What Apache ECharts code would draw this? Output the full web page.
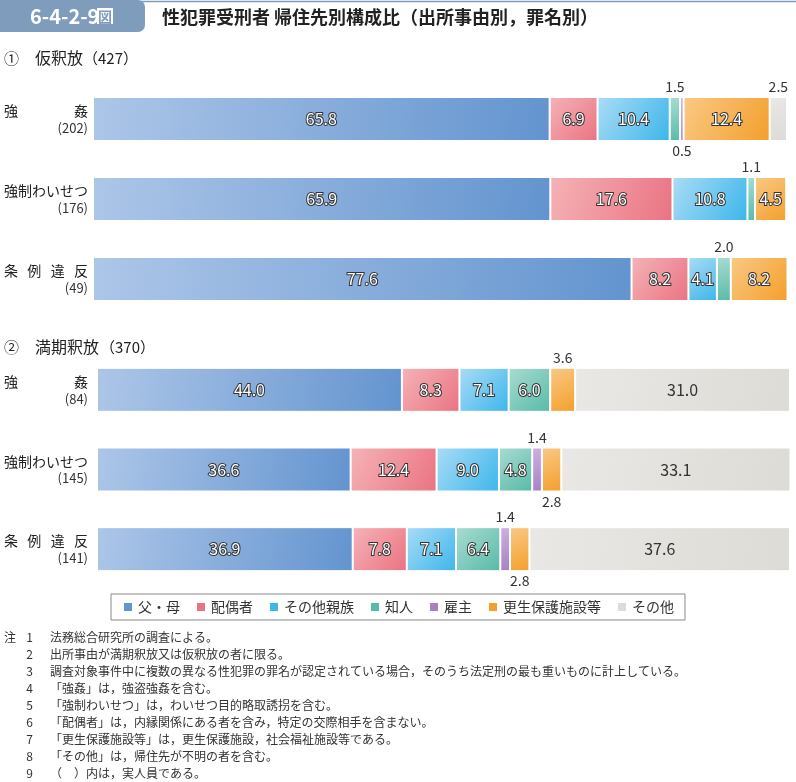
<!DOCTYPE html>
<html>
<head>
<meta charset="utf-8">
<script src="https://cdn.jsdelivr.net/npm/echarts@6/dist/echarts.min.js"></script>
<style>
html,body{margin:0;padding:0;background:#fff;}
#chart{width:796px;height:782px;}
</style>
</head>
<body>
<div id="chart"></div>
<script>
// ---- data ----
const categories = ['強姦', '強制わいせつ', '条例違反'];
const countsParole = [202, 176, 49];
const countsExpiry = [84, 145, 141];
const seriesNames = ['父・母', '配偶者', 'その他親族', '知人', '雇主', '更生保護施設等', 'その他'];

// ① 仮釈放
const paroleFather = [65.8, 65.9, 77.6];
const paroleSpouse = [6.9, 17.6, 8.2];
const paroleRelative = [10.4, 10.8, 4.1];
const paroleAcquaint = [1.5, 1.1, 2.0];
const paroleEmployer = [0.5, 0, 0];
const paroleFacility = [12.4, 4.5, 8.2];
const paroleOther = [2.5, 0, 0];

// ② 満期釈放
const expiryFather = [44.0, 36.6, 36.9];
const expirySpouse = [8.3, 12.4, 7.8];
const expiryRelative = [7.1, 9.0, 7.1];
const expiryAcquaint = [6.0, 4.8, 6.4];
const expiryEmployer = [0, 1.4, 1.4];
const expiryFacility = [3.6, 2.8, 2.8];
const expiryOther = [31.0, 33.1, 37.6];

const panelTitles = ['①', '仮釈放', '（427）', '②', '満期釈放', '（370）'];
const notes = [
  ['注', '1', '法務総合研究所の調査による。'],
  ['', '2', '出所事由が満期釈放又は仮釈放の者に限る。'],
  ['', '3', '調査対象事件中に複数の異なる性犯罪の罪名が認定されている場合，そのうち法定刑の最も重いものに計上している。'],
  ['', '4', '「強姦」は，強盗強姦を含む。'],
  ['', '5', '「強制わいせつ」は，わいせつ目的略取誘拐を含む。'],
  ['', '6', '「配偶者」は，内縁関係にある者を含み，特定の交際相手を含まない。'],
  ['', '7', '「更生保護施設等」は，更生保護施設，社会福祉施設等である。'],
  ['', '8', '「その他」は，帰住先が不明の者を含む。'],
  ['', '9', '（　）内は，実人員である。']
];

// ---- styling ----
const FONT = '"Noto Sans CJK JP", "Noto Sans", sans-serif';
const gradColors = [
  ['#adc6e8', '#6394cf'],
  ['#f5b3b7', '#ea7382'],
  ['#aadcf6', '#3db6ea'],
  ['#a9dcd2', '#58baa8'],
  ['#cdb0df', '#a681c3'],
  ['#fac985', '#f39f2c'],
  ['#e9e8e4', '#dcdbd6']
];
function grad(i) {
  return new echarts.graphic.LinearGradient(0, 0, 1, 1, [
    { offset: 0, color: gradColors[i][0] },
    { offset: 1, color: gradColors[i][1] }
  ]);
}

const panels = [
  [paroleFather, paroleSpouse, paroleRelative, paroleAcquaint, paroleEmployer, paroleFacility, paroleOther],
  [expiryFather, expirySpouse, expiryRelative, expiryAcquaint, expiryEmployer, expiryFacility, expiryOther]
];
const panelCounts = [countsParole, countsExpiry];

// decide outside label placement (small segments alternate top/bottom)
function placements(panel) {
  const res = panel.map(arr => arr.map(() => null));
  for (let r = 0; r < categories.length; r++) {
    let k = 0;
    for (let s = 0; s < panel.length; s++) {
      const v = panel[s][r];
      if (v > 0 && v < 4) {
        res[s][r] = (k % 2 === 0) ? 'top' : 'bottom';
        k++;
      }
    }
  }
  return res;
}

const series = [];
panels.forEach((panel, p) => {
  const place = placements(panel);
  panel.forEach((vals, s) => {
    series.push({
      name: seriesNames[s],
      type: 'bar',
      stack: 'panel' + p,
      xAxisIndex: p,
      yAxisIndex: p,
      barWidth: 44,
      silent: true,
      itemStyle: { color: grad(s), borderColor: '#fff', borderWidth: 1 },
      data: vals.map((v, r) => {
        let label;
        if (!(v > 0)) {
          label = { show: false };
        } else if (place[s][r]) {
          label = {
            show: true, position: place[s][r], distance: 3,
            fontSize: 14, color: '#333', fontFamily: FONT,
            formatter: () => v.toFixed(1)
          };
        } else {
          const dark = s === 6;
          label = {
            show: true, position: 'inside',
            fontSize: 16, fontFamily: FONT,
            color: dark ? '#333' : '#fff',
            textBorderColor: dark ? 'rgba(255,255,255,0)' : '#333',
            textBorderWidth: dark ? 0 : 2,
            formatter: () => v.toFixed(1)
          };
        }
        return { value: v, label };
      })
    });
  });
});

// justified category label
const W = 84, CW = 14;
function catLabel(name, count) {
  const chars = Array.from(name);
  const n = chars.length;
  let s = '';
  chars.forEach((c, i) => {
    s += (i < n - 1 ? '{c' + n + '|' + c + '}' : '{l|' + c + '}');
  });
  return s + '\n{n|(' + count + ')}';
}
function richFor() {
  const rich = {
    l: { width: CW, align: 'left', fontSize: 14, color: '#222', fontFamily: FONT, lineHeight: 18 },
    n: { fontSize: 13, color: '#333', fontFamily: FONT, align: 'right', lineHeight: 16 }
  };
  [2, 3, 4, 5, 6].forEach(n => {
    rich['c' + n] = { width: CW + (W - CW * n) / (n - 1), align: 'left', fontSize: 14, color: '#222', fontFamily: FONT, lineHeight: 18 };
  });
  return rich;
}

const grids = [
  { left: 93, width: 694, top: 79, height: 240 },
  { left: 97, width: 693, top: 350, height: 239 }
];

const xAxes = grids.map((g, i) => ({
  type: 'value', gridIndex: i, min: 0, max: 100, show: false
}));
const yAxes = grids.map((g, i) => ({
  type: 'category', gridIndex: i, data: categories, inverse: true,
  axisLine: { show: false }, axisTick: { show: false },
  axisLabel: {
    margin: i === 0 ? 5 : 9,
    align: 'right',
    formatter: (val, idx) => catLabel(val, panelCounts[i][idx]),
    rich: richFor()
  }
}));

// graphic elements (title, headings, notes)
const graphic = [
  { type: 'line', shape: { x1: 140, y1: 1.5, x2: 796, y2: 1.5 }, style: { stroke: '#7f9cbc', lineWidth: 1.5 } },
  { type: 'rect', shape: { x: 0, y: 0, width: 145, height: 32, r: [0, 7, 7, 0] }, style: { fill: '#7f9cbc' } },
  { type: 'text', x: 30, y: 16, style: { text: '6-4-2-9', font: 'bold 20px ' + FONT, fill: '#fff', verticalAlign: 'middle' } },
  { type: 'rect', shape: { x: 97, y: 8, width: 16, height: 16 }, style: { fill: '#fff' } },
  { type: 'text', x: 98, y: 16.5, style: { text: '図', font: 'bold 14px ' + FONT, fill: '#7f9cbc', verticalAlign: 'middle' } },
  { type: 'text', x: 162, y: 17, style: { text: '性犯罪受刑者 帰住先別構成比（出所事由別，罪名別）', font: 'bold 18px ' + FONT, fill: '#222', verticalAlign: 'middle' } },
  { type: 'text', x: 4, y: 58, style: { text: panelTitles[0], font: '15px ' + FONT, fill: '#222', verticalAlign: 'middle' } },
  { type: 'text', x: 35, y: 58, style: { text: panelTitles[1], font: '16px ' + FONT, fill: '#222', verticalAlign: 'middle' } },
  { type: 'text', x: 83, y: 58, style: { text: panelTitles[2], font: '15px ' + FONT, fill: '#222', verticalAlign: 'middle' } },
  { type: 'text', x: 4, y: 347, style: { text: panelTitles[3], font: '15px ' + FONT, fill: '#222', verticalAlign: 'middle' } },
  { type: 'text', x: 35, y: 347, style: { text: panelTitles[4], font: '16px ' + FONT, fill: '#222', verticalAlign: 'middle' } },
  { type: 'text', x: 100, y: 347, style: { text: panelTitles[5], font: '15px ' + FONT, fill: '#222', verticalAlign: 'middle' } }
];
notes.forEach((row, i) => {
  const y = 637 + i * 17;
  if (row[0]) graphic.push({ type: 'text', x: 4, y, style: { text: row[0], font: '12px ' + FONT, fill: '#333', verticalAlign: 'middle' } });
  graphic.push({ type: 'text', x: 33, y, style: { text: row[1], font: '12px ' + FONT, fill: '#333', verticalAlign: 'middle', align: 'right' } });
  graphic.push({ type: 'text', x: 50, y, style: { text: row[2], font: '12px ' + FONT, fill: '#333', verticalAlign: 'middle' } });
});

const chart = echarts.init(document.getElementById('chart'), null, { renderer: 'canvas' });
chart.setOption({
  animation: false,
  backgroundColor: '#fff',
  textStyle: { fontFamily: FONT },
  grid: grids,
  xAxis: xAxes,
  yAxis: yAxes,
  legend: {
    data: seriesNames.map((n, i) => ({ name: n, itemStyle: { color: gradColors[i][1] } })),
    left: 111, top: 594,
    padding: [6, 11, 6, 11],
    itemGap: 15, itemWidth: 10, itemHeight: 10,
    icon: 'rect',
    borderColor: '#8a8a8a', borderWidth: 1,
    selectedMode: false,
    textStyle: { fontSize: 14, color: '#333', fontFamily: FONT }
  },
  series: series,
  graphic: graphic
});
</script>
</body>
</html>
